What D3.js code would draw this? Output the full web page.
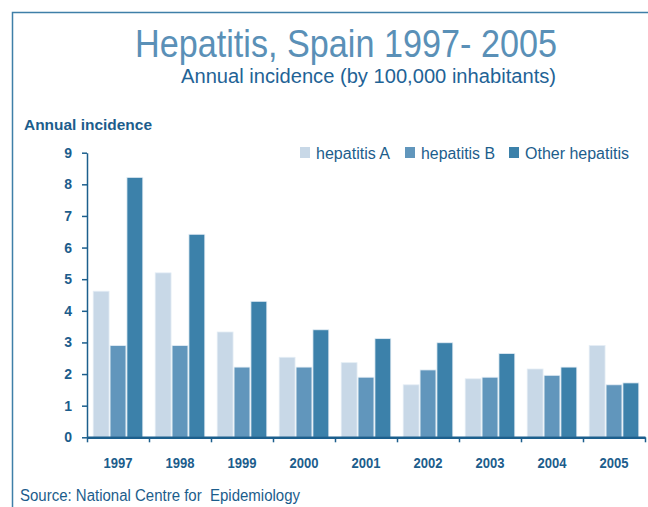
<!DOCTYPE html>
<html>
<head>
<meta charset="utf-8">
<script src="https://cdn.jsdelivr.net/npm/d3@7"></script>
<style>
  body { margin: 0; background: #fff; }
  svg { display: block; }
</style>
</head>
<body>
<div id="graphContainer"></div>
<script>
// values (incidence per 100,000)
var years = ["1997", "1998", "1999", "2000", "2001", "2002", "2003", "2004", "2005"];
var seriesNames = ["hepatitis A", "hepatitis B", "Other hepatitis"];
var hepA = [4.62, 5.2, 3.33, 2.53, 2.36, 1.66, 1.85, 2.16, 2.9];
var hepB = [2.9, 2.9, 2.22, 2.22, 1.9, 2.13, 1.9, 1.96, 1.66];
var hepOther = [8.22, 6.42, 4.3, 3.4, 3.12, 2.99, 2.65, 2.22, 1.72];
var yTicks = [0, 1, 2, 3, 4, 5, 6, 7, 8, 9];

var colors = ["#c8d8e7", "#6196bc", "#3c81aa"];
var textColor = "#1c5d8c";
var font = "'Liberation Sans', Arial, sans-serif";

var width = 648, height = 507;
var plotLeft = 87, plotRight = 645, plotTop = 152.7, plotBottom = 437.3;

var svg = d3.select("#graphContainer")
    .append("svg")
    .attr("width", width)
    .attr("height", height);

// frame
svg.append("path")
    .attr("d", `M12.5 ${height + 5} V12.5 H${width + 5}`)
    .attr("fill", "none")
    .attr("stroke", "#3f7fa8")
    .attr("stroke-width", 1.5);

// helper: text squeezed to the narrow look of the original
function label(x, y, str, size, fill, len, weight) {
    var t = svg.append("text")
        .attr("x", x)
        .attr("y", y)
        .attr("font-family", font)
        .attr("font-size", size)
        .attr("fill", fill)
        .style("white-space", "pre")
        .text(str);
    if (weight) t.attr("font-weight", weight);
    if (len) t.attr("textLength", len).attr("lengthAdjust", "spacingAndGlyphs");
    return t;
}

label(135, 57, "Hepatitis, Spain 1997- 2005", 38, "#5a90b7", 422);
label(181, 83, "Annual incidence (by 100,000 inhabitants)", 20, "#1f6396", 375);
label(24, 130, "Annual incidence", 15, textColor, 128, "bold");

var xScale = d3.scaleBand()
    .domain(years)
    .range([plotLeft, plotRight])
    .paddingInner(0.2)
    .paddingOuter(0.1);

var xGroup = d3.scaleBand()
    .domain(seriesNames)
    .range([0, xScale.bandwidth()])
    .paddingInner(0.06);

var yScale = d3.scaleLinear()
    .domain([0, 9])
    .range([plotBottom, plotTop]);

var allSeries = [hepA, hepB, hepOther];

// bars
seriesNames.forEach(function(name, s) {
    svg.append("g")
        .selectAll("rect")
        .data(allSeries[s])
        .join("rect")
        .attr("x", function(d, i) { return xScale(years[i]) + xGroup(name); })
        .attr("y", function(d) { return yScale(d); })
        .attr("width", xGroup.bandwidth())
        .attr("height", function(d) { return yScale(0) - yScale(d); })
        .attr("fill", colors[s])
        .attr("stroke", "#e4edf5")
        .attr("stroke-width", 0.8);
});

// x axis, ticks sit between the categories
var xLin = d3.scaleLinear().domain([0, years.length]).range([plotLeft, plotRight]);
var xAxis = svg.append("g")
    .attr("transform", `translate(0, ${plotBottom})`)
    .call(d3.axisBottom(xLin).tickValues(d3.range(0, years.length + 1)).tickSize(5).tickSizeOuter(0).tickFormat(""));
xAxis.select(".domain").attr("stroke", "#1c5f8d").attr("stroke-width", 2.5);
xAxis.selectAll(".tick line").attr("stroke", "#1c5f8d").attr("stroke-width", 1.5);

svg.append("g")
    .selectAll("text")
    .data(years)
    .join("text")
    .attr("x", function(d) { return xScale(d) + xScale.bandwidth() / 2; })
    .attr("y", 468)
    .attr("text-anchor", "middle")
    .attr("font-family", font)
    .attr("font-size", 14)
    .attr("font-weight", "bold")
    .attr("fill", textColor)
    .attr("textLength", 29)
    .attr("lengthAdjust", "spacingAndGlyphs")
    .text(function(d) { return d; });

// y axis
var yAxis = svg.append("g")
    .attr("transform", `translate(${plotLeft}, 0)`)
    .call(d3.axisLeft(yScale).tickValues(yTicks).tickSize(5).tickSizeOuter(0).tickPadding(10));
yAxis.select(".domain").attr("stroke", "#1c5f8d").attr("stroke-width", 1.5);
yAxis.selectAll(".tick line").attr("stroke", "#1c5f8d").attr("stroke-width", 1.5);
yAxis.selectAll(".tick text")
    .attr("font-family", font)
    .attr("font-size", 14)
    .attr("font-weight", "bold")
    .attr("fill", textColor);

// legend
var legendX = [300, 405, 509];
var legendLen = [74, 74, 104];
seriesNames.forEach(function(name, s) {
    svg.append("rect")
        .attr("x", legendX[s])
        .attr("y", 147)
        .attr("width", 10)
        .attr("height", 11)
        .attr("fill", colors[s]);
    label(legendX[s] + 16, 159, name, 16, textColor, legendLen[s]);
});

label(20, 501, "Source: National Centre for  Epidemiology", 16, textColor, 280);
</script>
</body>
</html>
